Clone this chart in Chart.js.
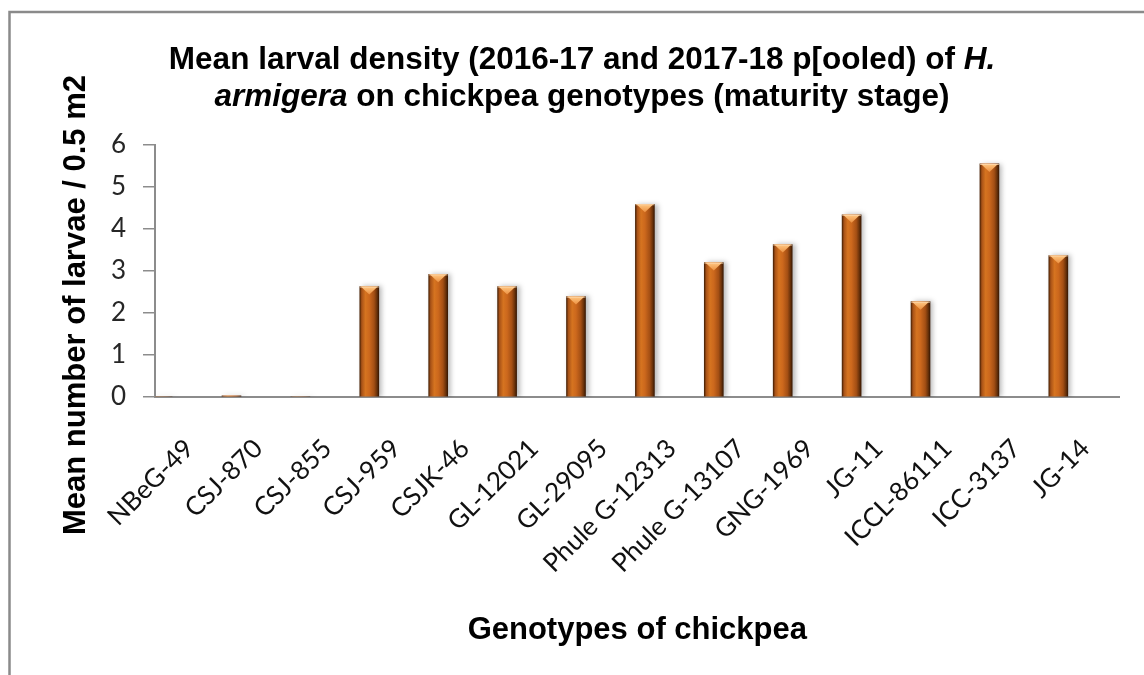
<!DOCTYPE html>
<html>
<head>
<meta charset="utf-8">
<title>Mean larval density of H. armigera</title>
<script src="https://cdn.jsdelivr.net/npm/chart.js@4.4.1/dist/chart.umd.min.js"></script>
<style>
  html, body { margin: 0; padding: 0; background: #fff; }
  #wrap { width: 1144px; height: 675px; }
</style>
</head>
<body>
<div id="wrap"><canvas id="larvaChart" width="1144" height="675"></canvas></div>
<script>
// data
const genotypes = ['NBeG-49', 'CSJ-870', 'CSJ-855', 'CSJ-959', 'CSJK-46', 'GL-12021', 'GL-29095',
    'Phule G-12313', 'Phule G-13107', 'GNG-1969', 'JG-11', 'ICCL-86111', 'ICC-3137', 'JG-14'];
const meanLarvae = [0, 0.03, 0, 2.63, 2.92, 2.63, 2.39, 4.59, 3.2, 3.63, 4.34, 2.27, 5.55, 3.37];
const yTicks = [0, 1, 2, 3, 4, 5, 6];

const titleLines = [
    [['Mean larval density (2016-17 and 2017-18 p[ooled) of ', false], ['H.', true]],
    [['armigera', true], [' on chickpea genotypes (maturity stage)', false]]
];
const yTitle = 'Mean number of larvae / 0.5 m2';
const xTitle = 'Genotypes of chickpea';

const BAR_W = 19;
const boldFont = '"Liberation Sans", Arial, sans-serif';

// horizontal shading of each column (dark edges, bright left-centre)
function barFill(context) {
    const chart = context.chart;
    const xs = chart.scales.xb;
    if (!xs || !context.raw || !chart.chartArea) return '#c0601c';
    const cx = xs.getPixelForValue(context.raw.x);
    const g = chart.ctx.createLinearGradient(cx - BAR_W / 2, 0, cx + BAR_W / 2, 0);
    g.addColorStop(0, '#4a2205');
    g.addColorStop(0.1, '#a85217');
    g.addColorStop(0.3, '#d67420');
    g.addColorStop(0.5, '#cc681d');
    g.addColorStop(0.75, '#a44f14');
    g.addColorStop(0.9, '#6a320a');
    g.addColorStop(1, '#3a1903');
    return g;
}

const frameAndTitles = {
    id: 'frameAndTitles',
    beforeDraw(chart) {
        const c = chart.ctx;
        c.save();
        c.fillStyle = '#fff';
        c.fillRect(0, 0, chart.width, chart.height);
        c.strokeStyle = '#8a8a8a';
        c.lineWidth = 2.5;
        c.beginPath();
        c.moveTo(9.5, chart.height);
        c.lineTo(9.5, 12);
        c.lineTo(chart.width, 12);
        c.stroke();
        c.restore();
    },
    afterDraw(chart) {
        const c = chart.ctx;
        c.save();
        c.fillStyle = '#000';
        c.textBaseline = 'middle';
        c.textAlign = 'left';
        const lineY = [60, 97];
        titleLines.forEach((parts, i) => {
            const fonts = parts.map(p => (p[1] ? 'italic ' : '') + 'bold 31.5px ' + boldFont);
            let total = 0;
            parts.forEach((p, k) => { c.font = fonts[k]; total += c.measureText(p[0]).width; });
            let x = 582 - total / 2;
            parts.forEach((p, k) => {
                c.font = fonts[k];
                c.fillText(p[0], x, lineY[i]);
                x += c.measureText(p[0]).width;
            });
        });
        // y axis title
        c.translate(76, 305);
        c.rotate(-Math.PI / 2);
        c.textAlign = 'center';
        c.font = 'bold 31px ' + boldFont;
        c.fillText(yTitle, 0, 0);
        c.restore();
    }
};

const barBevel = {
    id: 'barBevel',
    beforeDatasetsDraw(chart) {
        const c = chart.ctx;
        c.save();
        c.shadowColor = 'rgba(0, 0, 0, 0.28)';
        c.shadowBlur = 5;
        c.shadowOffsetX = 3;
        c.shadowOffsetY = 0;
    },
    afterDatasetsDraw(chart) {
        const c = chart.ctx;
        c.restore();
        c.save();
        chart.getDatasetMeta(0).data.forEach(bar => {
            const {x, y, base, width} = bar.getProps(['x', 'y', 'base', 'width'], true);
            if (base - y < 10) return;
            const g = c.createLinearGradient(0, y, 0, y + 8);
            g.addColorStop(0, '#ffc884');
            g.addColorStop(1, '#ec9040');
            c.fillStyle = g;
            c.beginPath();
            c.moveTo(x - width / 2 + 1, y);
            c.lineTo(x + width / 2 - 1, y);
            c.lineTo(x, y + 8);
            c.closePath();
            c.fill();
            c.fillStyle = 'rgba(255, 220, 180, 0.8)';
            c.fillRect(x - width / 2, y, width, 1);
        });
        c.restore();
    }
};

const ctx = document.getElementById('larvaChart').getContext('2d');
new Chart(ctx, {
    type: 'bar',
    data: {
        labels: genotypes,
        datasets: [{
            label: 'Mean larvae',
            data: meanLarvae.map((v, i) => ({ x: i, y: v })),
            xAxisID: 'xb',
            yAxisID: 'y',
            backgroundColor: barFill,
            borderWidth: 0,
            barThickness: BAR_W
        }]
    },
    options: {
        responsive: false,
        animation: false,
        layout: { padding: { top: 145, right: 21, left: 0, bottom: 0 } },
        plugins: {
            legend: { display: false },
            tooltip: { enabled: false },
            title: { display: false }
        },
        scales: {
            x: {
                type: 'category',
                offset: true,
                grid: { display: false, drawTicks: false },
                border: { display: true, color: '#8c8c8c', width: 2 },
                ticks: {
                    autoSkip: false,
                    minRotation: 45,
                    maxRotation: 45,
                    padding: 36,
                    color: '#111',
                    font: { family: 'Lato, "Open Sans", sans-serif', size: 26 }
                },
                title: {
                    display: true,
                    text: xTitle,
                    color: '#000',
                    padding: { top: 0, bottom: 26 },
                    font: { family: boldFont, size: 31, weight: 'bold' }
                },
                afterFit: s => { s.height = 278; }
            },
            xb: {
                type: 'linear',
                display: false,
                offset: false,
                min: -0.11,
                max: 13.89
            },
            y: {
                min: yTicks[0],
                max: yTicks[yTicks.length - 1],
                grid: {
                    display: true,
                    drawOnChartArea: false,
                    drawTicks: true,
                    tickLength: 12,
                    color: '#8c8c8c',
                    lineWidth: 1.5
                },
                border: { display: true, color: '#8c8c8c', width: 2 },
                ticks: {
                    stepSize: 1,
                    padding: 17,
                    color: '#262626',
                    font: { family: 'Lato, "Open Sans", sans-serif', size: 26 }
                },
                afterFit: s => { s.width = 155; }
            }
        }
    },
    plugins: [frameAndTitles, barBevel]
});
</script>
</body>
</html>
